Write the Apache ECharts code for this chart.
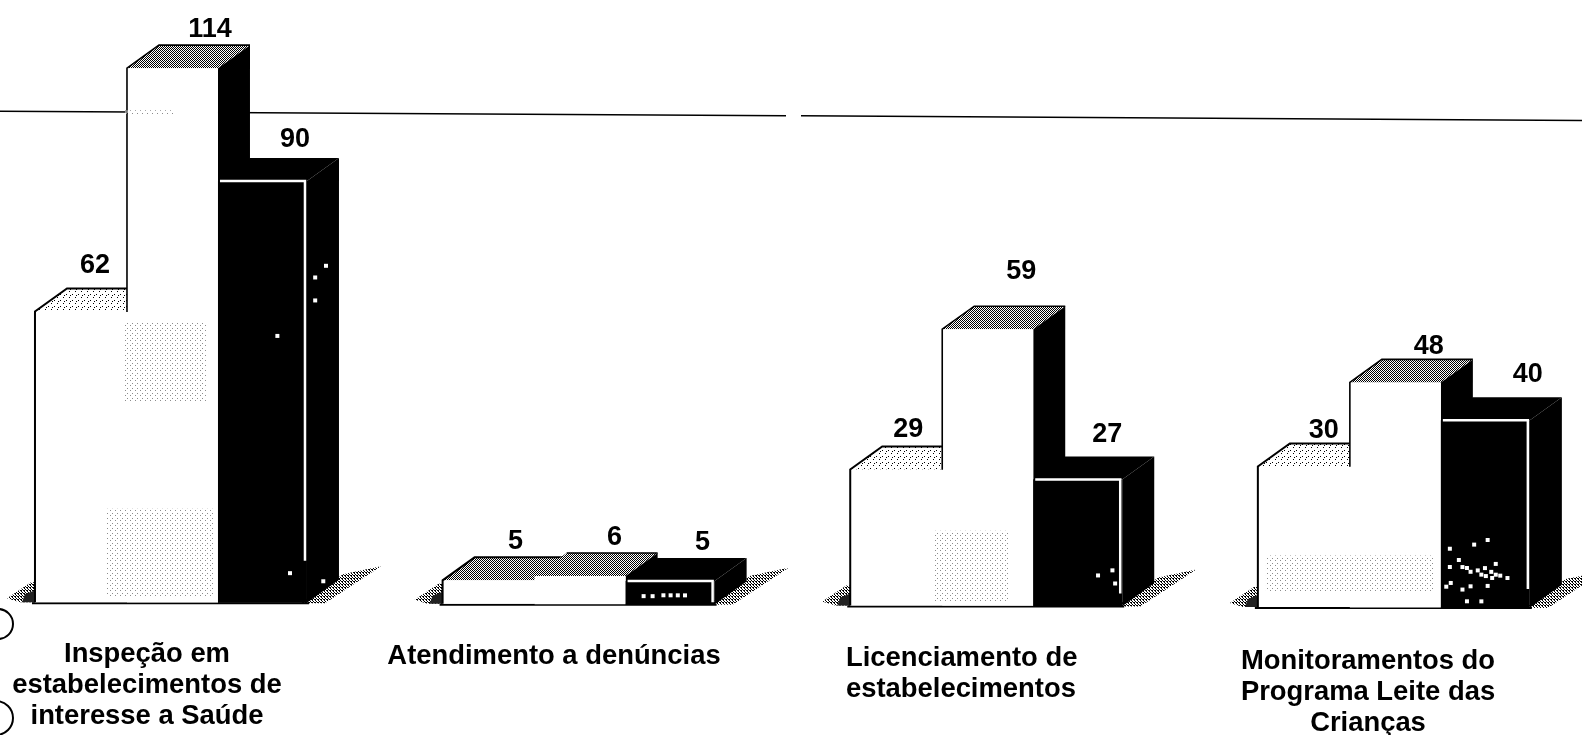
<!DOCTYPE html>
<html><head><meta charset="utf-8">
<style>html,body{margin:0;padding:0;background:#fff}#c{width:1582px;height:735px}</style>
<script src="https://cdn.jsdelivr.net/npm/echarts@6/dist/echarts.min.js"></script>
</head><body><div id="c"></div>
<script>
const categories = ['Inspeção em\nestabelecimentos de\ninteresse a Saúde','Atendimento a denúncias','Licenciamento de\nestabelecimentos','Monitoramentos do\nPrograma Leite das\nCrianças'];
const seriesA = [62, 5, 29, 30];
const seriesB = [114, 6, 59, 48];
const seriesC = [90, 5, 27, 40];
const referenceValue = 104.7;
// scan specks on the dark bars: [category, fraction along bar, value]
const specks = [[3,.10,12.6],[3,.37,13.5],[3,.52,14.5],[3,.10,8.7],[3,.20,10.2],[3,.24,8.7],[3,.29,8.5],[3,.33,7.7],[3,.41,8],[3,.49,8.5],[3,.56,7.7],[3,.61,9.4],[3,.45,7.1],[3,.50,6.8],[3,.57,6.4],[3,.61,7.1],[3,.66,6.9],[3,.74,6.4],[3,.11,5.3],[3,.06,4.5],[3,.24,3.9],[3,.33,4.6],[3,.52,4.7],[3,.29,1.4],[3,.45,1.4],
 [0,1.08,69.5],[0,1.08,64.6],[0,1.2,72],[0,.66,57],[0,.8,6.4],[0,1.17,4.7],
 [2,.72,6.6],[2,.88,7.7],[2,.91,4.9],
 [1,.2,1.8],[1,.3,1.8],[1,.42,2],[1,.5,2],[1,.58,2],[1,.66,2]];
// faint halftone patches on the white faces: [category, from, to (bar widths), value low, value high]
const patches = [[0,1,1.9,43,60],[0,.8,2,1,20],[0,1,1.55,104.2,105],[2,.92,1.77,1,16],[3,.09,1.95,3,11]];

const OFFSET = [0, 92, 183], WIDTH = [92, 91, 89], BAND = 270, BAR_W = 90, DX = 32, DY = 23, TILT = 0.004;
function tile(size, cells){
  const c = document.createElement('canvas'); c.width = c.height = size;
  const g = c.getContext('2d'); g.fillStyle='#fff'; g.fillRect(0,0,size,size);
  g.fillStyle='#000'; cells.forEach(p=>g.fillRect(p[0],p[1],1,1));
  return {image:c, repeat:'repeat'};
}
const ditherDark = tile(2,[[0,0],[1,1]]);
const ditherLight = tile(6,[[0,0],[3,3],[4,1]]);
const lattice = tile(5,[[0,0],[2,3]]);
const shadowTile = tile(3,[[0,0],[1,1],[2,2],[0,2]]);

const y = (api, x, v) => api.coord([0, v])[1] + x * TILT;
function bar(values, index){
  return function(params, api){
    const idx = params.dataIndex, v = api.value(1);
    const left = api.coord([idx, 0])[0] - BAND/2 + OFFSET[index], w = WIDTH[index], right = left + w;
    const top = y(api, left, v), base = y(api, left, 0);
    const poly = (pts, style) => ({type:'polygon', shape:{points:pts}, style});
    const kids = [];
    const dark = index === 2;
    const low = v < 10;
    kids.push(poly([[left,top],[left+DX,top-DY],[right+DX,top-DY],[right,top]],
      {fill: dark ? '#000' : (index === 0 && !low ? ditherLight : ditherDark)}));
    kids.push(poly([[right,top],[right+DX,top-DY],[right+DX,base-DY],[right,base]], {fill: index === 0 ? '#fff' : '#000'}));
    kids.push({type:'rect', shape:{x:left, y:top, width:w, height:base-top}, style:{fill: dark ? '#000' : '#fff'}});
    if (dark) {
      const end = top + (base-top) * 0.9;
      kids.push({type:'polyline', shape:{points:[[left+2,top],[right-2,top],[right-2,end]]}, style:{stroke:'#fff', fill:null, lineWidth:2.5}});
    } else if (index === 1 && low) {
      kids.push({type:'line', shape:{x1:left+DX,y1:top-DY,x2:right+DX,y2:top-DY}, style:{stroke:'#000', lineWidth:1.6}});
    } else {
      // the second bar's left edge stops where it meets the first bar
      const edgeEnd = index === 0 ? base : y(api, left, seriesA[idx]);
      kids.push({type:'polyline', shape:{points:[[left,edgeEnd],[left,top],[left+DX,top-DY],[right+DX,top-DY]]}, style:{stroke:'#000', fill:null, lineWidth:index===0?2:1.6}});
    }
    return {type:'group', children:kids};
  };
}
const nudges = [
  [[60,-46],[73,-39],[58,-40],[66,-36]],
  [[83,-39],[80,-38],[79,-58],[79,-36]],
  [[77,-41],[77,-39],[74,-45],[87,-46]]
];
function valueLabels(values, index){
  return function(params, api){
    const idx = params.dataIndex, v = api.value(1);
    const left = api.coord([idx, 0])[0] - BAND/2 + OFFSET[index];
    const n = nudges[index][idx];
    return {type:'text', x:left+n[0], y:y(api,left,v)+n[1], style:{text:String(values[idx]), fill:'#000', font:'bold 27px "Liberation Sans", Arial, sans-serif', align:'center', verticalAlign:'middle'}};
  };
}
const labelPlace = [[147,639,'center'],[554,641,'center'],[846,643,'left'],[1368,646,'center']];
const catData = categories.map((c,i)=>[i,0]);

const option = {
  animation:false,
  backgroundColor:'#fff',
  grid:{left:0, right:0, top:2, height:600, containLabel:false},
  xAxis:{type:'value', min:-0.417, max:3.464, show:false},
  yAxis:{type:'value', min:0, max:128, show:false},
  graphic:[
    {type:'arc', shape:{cx:-2,cy:624,r:15,startAngle:-1.57,endAngle:1.57}, style:{stroke:'#000',fill:null,lineWidth:2}},
    {type:'arc', shape:{cx:-4,cy:718,r:17,startAngle:-1.57,endAngle:1.57}, style:{stroke:'#000',fill:null,lineWidth:2}}
  ],
  series:[
    {name:'Linha de referência', type:'custom', coordinateSystem:'cartesian2d', silent:true, clip:false, z:1,
     data:[[0,referenceValue]],
     renderItem:(p,api)=>{
       const yy = api.coord([0,api.value(1)])[1];
       const at = x => yy + x*0.0058;
       const seg = (a,b)=>({type:'line',shape:{x1:a,y1:at(a),x2:b,y2:at(b)},style:{stroke:'#000',lineWidth:1.5}});
       return {type:'group',children:[seg(0,786),seg(801,1582)]};
     }},
    {name:'Sombra', type:'custom', coordinateSystem:'cartesian2d', silent:true, clip:false, z:2,
     data:catData,
     renderItem:(p,api)=>{
       const c = api.coord([p.dataIndex,0])[0], L=c-BAND/2, R=c+BAND/2+2, b=y(api,L,0);
       return {type:'group',children:[
         {type:'polygon',shape:{points:[[R-6,b+1],[R+18,b+1],[R+74,b-36],[R+36,b-28]]},style:{fill:shadowTile}},
         {type:'polygon',shape:{points:[[L,b],[L-15,b],[L-28,b-4],[L-4,b-20],[L,b-20]]},style:{fill:shadowTile}},
         {type:'polygon',shape:{points:[[L,b],[L-13,b],[L-10,b-8],[L,b-12]]},style:{fill:'#222'}},
         {type:'line',shape:{x1:L-3,y1:b+1,x2:R+2,y2:b+1},style:{stroke:'#000',lineWidth:2}}
       ]};
     }},
    {name:'Série 1', type:'custom', coordinateSystem:'cartesian2d', clip:false, z:3, data:seriesA.map((v,i)=>[i,v]), renderItem:bar(seriesA,0)},
    {name:'Série 2', type:'custom', coordinateSystem:'cartesian2d', clip:false, z:4, data:seriesB.map((v,i)=>[i,v]), renderItem:bar(seriesB,1)},
    {name:'Meio-tom', type:'custom', coordinateSystem:'cartesian2d', silent:true, clip:false, z:5, data:patches.map(p=>[p[0],p[3]]),
     renderItem:(p,api)=>{
       const q = patches[p.dataIndex], c = api.coord([q[0],0])[0]-BAND/2;
       const a=c+q[1]*BAR_W, b=c+q[2]*BAR_W, t=y(api,a,q[4]), u=y(api,a,q[3]);
       return {type:'rect',shape:{x:a,y:t,width:b-a,height:u-t},style:{fill:lattice,opacity:.45}};
     }},
    {name:'Série 3', type:'custom', coordinateSystem:'cartesian2d', clip:false, z:6, data:seriesC.map((v,i)=>[i,v]), renderItem:bar(seriesC,2)},
    {name:'Pontos', type:'custom', coordinateSystem:'cartesian2d', silent:true, clip:false, z:7, data:specks.map(s=>[s[0],s[2]]),
     renderItem:(p,api)=>{
       const s = specks[p.dataIndex], x = api.coord([s[0],0])[0]+48+s[1]*BAR_W;
       return {type:'rect',shape:{x:x-2,y:y(api,x,s[2])-2,width:4,height:4},style:{fill:'#fff'}};
     }},
    {name:'Rótulos A', type:'custom', coordinateSystem:'cartesian2d', clip:false, z:8, data:seriesA.map((v,i)=>[i,v]), renderItem:valueLabels(seriesA,0)},
    {name:'Rótulos B', type:'custom', coordinateSystem:'cartesian2d', clip:false, z:8, data:seriesB.map((v,i)=>[i,v]), renderItem:valueLabels(seriesB,1)},
    {name:'Rótulos C', type:'custom', coordinateSystem:'cartesian2d', clip:false, z:8, data:seriesC.map((v,i)=>[i,v]), renderItem:valueLabels(seriesC,2)},
    {name:'Categorias', type:'custom', coordinateSystem:'cartesian2d', silent:true, clip:false, z:8, data:catData,
     renderItem:(p,api)=>{
       const l = labelPlace[p.dataIndex];
       return {type:'text',x:l[0],y:l[1],style:{text:categories[p.dataIndex],fill:'#000',font:'bold 27.4px "Liberation Sans", Arial, sans-serif',align:l[2],verticalAlign:'top',lineHeight:31}};
     }}
  ]
};
const chart = echarts.init(document.getElementById('c'), null, {renderer:'canvas'});
chart.setOption(option);
</script></body></html>
